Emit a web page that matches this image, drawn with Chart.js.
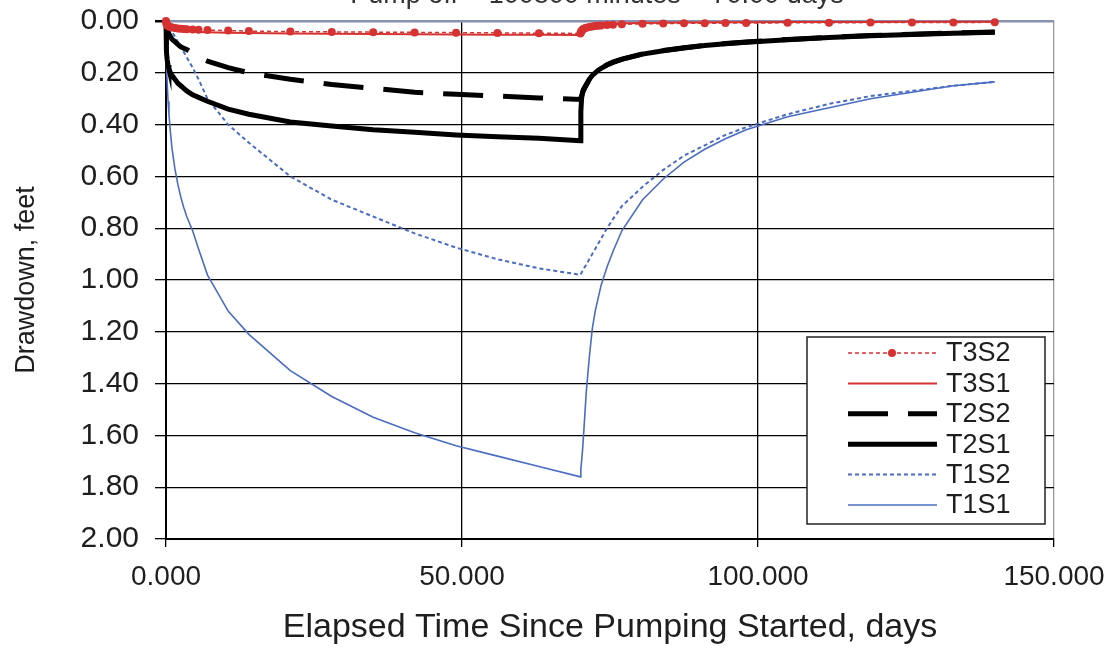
<!DOCTYPE html>
<html>
<head>
<meta charset="utf-8">
<script src="https://cdn.jsdelivr.net/npm/chart.js@4.4.1/dist/chart.umd.min.js"></script>
<style>
  html, body { margin: 0; padding: 0; background: #fff; }
</style>
</head>
<body>
<canvas id="myChart" width="1118" height="649"></canvas>
<script>
// elapsed time, days (pump off at 70 days)
const days = [0, 0.05, 0.1, 0.2, 0.35, 0.5, 0.75, 1, 1.5, 2, 2.5, 3, 3.5, 4.5, 5.5, 7, 10.5, 14, 21, 28, 35, 42, 49, 56, 63, 70,
  70.05, 70.1, 70.2, 70.35, 70.5, 70.75, 71, 71.5, 72, 72.5, 73, 73.5, 74.5, 75.5, 77, 80.5, 84, 87.5, 91, 94.5, 98, 105, 112, 119, 126, 133, 140];

// drawdown, feet
const t3s2 = [0, 0.008, 0.012, 0.016, 0.019, 0.021, 0.023, 0.025, 0.027, 0.029, 0.030, 0.031, 0.032, 0.033, 0.034, 0.035, 0.037, 0.039, 0.041, 0.042, 0.043, 0.044, 0.045, 0.046, 0.047, 0.048,
  0.045, 0.042, 0.038, 0.034, 0.031, 0.028, 0.026, 0.023, 0.021, 0.019, 0.018, 0.017, 0.015, 0.014, 0.013, 0.011, 0.010, 0.009, 0.009, 0.008, 0.008, 0.007, 0.007, 0.006, 0.006, 0.006, 0.005];
const t3s1 = [0, 0.015, 0.02, 0.025, 0.028, 0.03, 0.032, 0.034, 0.036, 0.037, 0.038, 0.039, 0.040, 0.041, 0.042, 0.043, 0.045, 0.046, 0.048, 0.049, 0.050, 0.051, 0.052, 0.053, 0.053, 0.054,
  0.040, 0.034, 0.029, 0.025, 0.022, 0.020, 0.018, 0.016, 0.015, 0.014, 0.013, 0.012, 0.011, 0.010, 0.009, 0.008, 0.007, 0.006, 0.006, 0.005, 0.005, 0.004, 0.004, 0.004, 0.003, 0.003, 0.003];
const t2s2 = [0, 0.01, 0.02, 0.03, 0.04, 0.05, 0.06, 0.07, 0.08, 0.09, 0.10, 0.105, 0.11, 0.125, 0.14, 0.155, 0.18, 0.20, 0.225, 0.245, 0.26, 0.275, 0.283, 0.29, 0.297, 0.303,
  0.30, 0.295, 0.29, 0.28, 0.27, 0.258, 0.247, 0.226, 0.21, 0.20, 0.19, 0.182, 0.169, 0.159, 0.147, 0.127, 0.114, 0.103, 0.094, 0.087, 0.081, 0.071, 0.063, 0.056, 0.051, 0.046, 0.042];
const t2s1 = [0, 0.08, 0.12, 0.15, 0.17, 0.185, 0.20, 0.21, 0.225, 0.24, 0.25, 0.26, 0.27, 0.285, 0.295, 0.31, 0.34, 0.36, 0.39, 0.405, 0.42, 0.43, 0.44, 0.447, 0.453, 0.462,
  0.40, 0.35, 0.30, 0.275, 0.265, 0.255, 0.245, 0.225, 0.21, 0.20, 0.19, 0.183, 0.17, 0.16, 0.148, 0.128, 0.115, 0.104, 0.095, 0.088, 0.082, 0.072, 0.064, 0.057, 0.052, 0.047, 0.043];
const t1s2 = [0, 0.003, 0.006, 0.01, 0.016, 0.022, 0.03, 0.04, 0.06, 0.08, 0.10, 0.12, 0.14, 0.18, 0.225, 0.30, 0.40, 0.47, 0.60, 0.69, 0.755, 0.82, 0.875, 0.92, 0.955, 0.98,
  0.978, 0.976, 0.972, 0.965, 0.96, 0.95, 0.94, 0.92, 0.90, 0.88, 0.86, 0.84, 0.80, 0.765, 0.715, 0.64, 0.575, 0.52, 0.48, 0.44, 0.41, 0.36, 0.32, 0.29, 0.27, 0.25, 0.235];
const t1s1 = [0, 0.10, 0.16, 0.24, 0.31, 0.36, 0.43, 0.49, 0.57, 0.63, 0.68, 0.72, 0.755, 0.81, 0.88, 0.98, 1.12, 1.21, 1.35, 1.45, 1.53, 1.59, 1.64, 1.68, 1.72, 1.76,
  1.75, 1.73, 1.70, 1.66, 1.61, 1.52, 1.43, 1.30, 1.19, 1.12, 1.07, 1.02, 0.95, 0.89, 0.81, 0.69, 0.61, 0.545, 0.495, 0.455, 0.42, 0.37, 0.335, 0.30, 0.275, 0.25, 0.235];

const chartTitle = 'Pump off = 100800 minutes = 70.00 days';

function pts(vals) {
  return days.map((d, i) => ({ x: d, y: vals[i] }));
}

Chart.defaults.font.family = "'Liberation Sans', Arial, sans-serif";
Chart.defaults.color = '#1e1e1e';

const red = '#d63232';
const blue = '#4a6cc2';

const data = {
  datasets: [
    { label: 'T3S2', data: pts(t3s2), borderColor: red, backgroundColor: red, borderWidth: 1.5, borderDash: [4, 3],
      pointRadius: 4, pointBorderWidth: 0, pointBackgroundColor: red },
    { label: 'T3S1', data: pts(t3s1), borderColor: red, borderWidth: 2, pointRadius: 0 },
    { label: 'T2S2', data: pts(t2s2), borderColor: '#000', borderWidth: 5, borderDash: [40, 20], pointRadius: 0 },
    { label: 'T2S1', data: pts(t2s1), borderColor: '#000', borderWidth: 5, pointRadius: 0 },
    { label: 'T1S2', data: pts(t1s2), borderColor: blue, borderWidth: 2, borderDash: [4, 3], pointRadius: 0 },
    { label: 'T1S1', data: pts(t1s1), borderColor: blue, borderWidth: 1.6, pointRadius: 0 },
  ]
};

// title sits mostly above the top of the picture, only its lower part shows
const topTitle = {
  id: 'topTitle',
  afterDraw(chart) {
    const ctx = chart.ctx;
    ctx.save();
    ctx.font = "27px 'Liberation Sans', Arial, sans-serif";
    ctx.fillStyle = '#333';
    ctx.textAlign = 'center';
    ctx.textBaseline = 'alphabetic';
    ctx.fillText(chartTitle, 597, 3);
    ctx.restore();
  }
};

// boxed legend in the lower right of the plot
const boxLegend = {
  id: 'boxLegend',
  afterDraw(chart) {
    const ctx = chart.ctx;
    const x0 = 807, y0 = 337, w = 238, h = 187;
    ctx.save();
    ctx.fillStyle = '#fff';
    ctx.fillRect(x0, y0, w, h);
    ctx.strokeStyle = '#222';
    ctx.lineWidth = 1.5;
    ctx.strokeRect(x0, y0, w, h);
    ctx.font = "27px 'Liberation Sans', Arial, sans-serif";
    ctx.textBaseline = 'middle';
    ctx.textAlign = 'left';
    chart.data.datasets.forEach((ds, i) => {
      const y = y0 + 16 + i * 30.4;
      ctx.strokeStyle = ds.borderColor;
      ctx.lineWidth = ds.borderWidth;
      ctx.setLineDash(ds.borderDash || []);
      ctx.beginPath();
      ctx.moveTo(848, y);
      ctx.lineTo(937, y);
      ctx.stroke();
      ctx.setLineDash([]);
      if (ds.pointRadius > 0) {
        ctx.fillStyle = ds.pointBackgroundColor;
        ctx.beginPath();
        ctx.arc(892, y, ds.pointRadius, 0, Math.PI * 2);
        ctx.fill();
      }
      ctx.fillStyle = '#1e1e1e';
      ctx.fillText(ds.label, 946, y + 1);
    });
    ctx.restore();
  }
};

const config = {
  type: 'line',
  data: data,
  plugins: [topTitle, boxLegend],
  options: {
    responsive: false,
    animation: false,
    devicePixelRatio: 1,
    clip: false,
    layout: { padding: { top: 21, right: 64, left: 0, bottom: 0 } },
    elements: { line: { tension: 0 } },
    plugins: {
      legend: { display: false },
      tooltip: { enabled: false },
    },
    scales: {
      x: {
        type: 'linear',
        min: 0,
        max: 150,
        afterFit: (s) => { s.height = 110; s.paddingLeft = 0; s.paddingRight = 0; },
        ticks: {
          stepSize: 50,
          padding: 13,
          font: { size: 28 },
          maxRotation: 0,
          callback: (v) => v.toFixed(3),
        },
        grid: {
          color: (c) => c.tick && c.tick.value === 150 ? '#9a9a9a' : '#000',
          lineWidth: 1.3,
          tickLength: 8,
          tickColor: '#000',
        },
        border: { color: '#000', width: 2 },
        title: {
          display: true,
          text: 'Elapsed Time Since Pumping Started, days',
          font: { size: 34 },
          padding: { top: 0, bottom: 1 },
        },
      },
      y: {
        reverse: true,
        min: 0,
        max: 2,
        afterFit: (s) => { s.width = 166; s.paddingTop = 0; s.paddingBottom = 0; },
        ticks: {
          stepSize: 0.2,
          padding: 16,
          font: { size: 30 },
          callback: (v) => v.toFixed(2),
        },
        grid: {
          color: (c) => c.tick && c.tick.value === 0 ? '#8a90b0' : '#000',
          lineWidth: (c) => c.tick && c.tick.value === 0 ? 2.5 : 1.3,
          tickLength: 11,
          tickColor: '#000',
        },
        border: { color: '#000', width: 2 },
        title: {
          display: true,
          text: 'Drawdown, feet',
          font: { size: 27 },
          padding: { top: 10, bottom: 4 },
        },
      },
    }
  },
};

const myChart = new Chart(document.getElementById('myChart'), config);
</script>
</body>
</html>
